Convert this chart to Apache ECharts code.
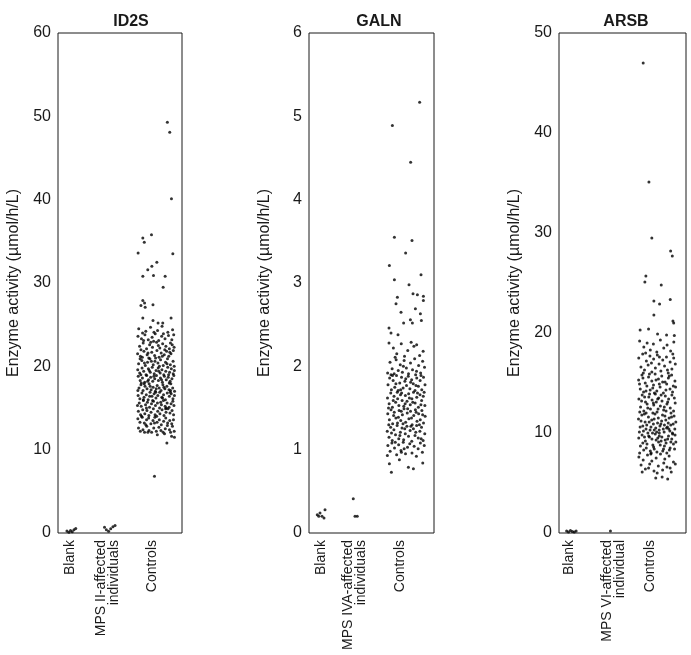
<!DOCTYPE html>
<html><head><meta charset="utf-8">
<script src="https://cdn.jsdelivr.net/npm/echarts@6/dist/echarts.min.js"></script>
<style>html,body{margin:0;padding:0;background:#fff}#c{width:691px;height:655px}</style>
</head><body><div id="c"></div>
<script>
// ---- data (x = jitter position in % of panel width, y = enzyme activity µmol/h/L) ----
const panelTitles = ['ID2S', 'GALN', 'ARSB'];
const yAxisName = 'Enzyme activity (µmol/h/L)';
const categoriesID2S = ['Blank', 'MPS II-affected\nindividuals', 'Controls'];
const categoriesGALN = ['Blank', 'MPS IVA-affected\nindividuals', 'Controls'];
const categoriesARSB = ['Blank', 'MPS VI-affected\nindividual', 'Controls'];
const yMaxs = [60, 6, 50];
const ySteps = [10, 1, 10];

const id2sBlank = [[7.2,0.25],[8.8,0.1],[10.1,0.3],[11.5,0.15],[12.9,0.4],[14.3,0.55]];
const id2sMps = [[37.5,0.7],[39,0.4],[40.8,0.2],[42.5,0.5],[44.3,0.75],[46,0.9]];
const id2sControls = [
[88.2,49.3],[90.1,48.1],[91.5,40.1],[92.6,33.5],[64.6,33.6],[68.4,35.4],[69.6,34.9],[75.4,35.8],[68.4,30.8],[72.4,31.6],[75.7,32.0],[79.7,32.5],[77,30.9],[86.4,30.8],[84.8,29.5],[66.9,27.3],[68.4,27.9],[69.8,27.6],[70.3,27.1],[76.6,27.4],[68.4,25.8],[76.6,25.5],[80.7,25.2],[84.5,25.2],[91.2,25.8],[77.8,6.8],[87.8,10.8],[91.6,11.6],[90.8,12.1],
[65.1,24.5],[70.8,24.2],[74.6,24.7],[80.3,24.3],[83.9,24.8],[88.6,24.1],[92.4,24.4],[68.2,24.0],[77.4,24.1],
[64.5,23.6],[67.3,23.3],[70.1,23.8],[72.8,23.2],[75.9,23.5],[78.4,23.9],[81.2,23.1],[83.6,23.6],[86.3,23.3],[89.1,23.7],[91.8,23.2],[93.3,23.8],[77.1,23.0],[69.0,23.1],[85.0,23.9],
[65.8,22.4],[68.7,22.8],[71.4,22.1],[73.9,22.6],[76.2,22.3],[79.5,22.9],[82.1,22.2],[84.4,22.7],[87.0,22.4],[89.8,22.1],[92.1,22.6],[93.6,22.3],[66.9,22.0],[74.8,22.9],[80.9,22.5],[86.1,22.0],[90.7,22.8],
[64.2,21.5],[66.5,21.2],[69.3,21.8],[71.9,21.4],[73.2,21.0],[75.6,21.7],[77.9,21.3],[79.8,21.9],[81.5,21.1],[83.2,21.6],[85.7,21.4],[87.6,21.8],[89.3,21.2],[91.1,21.5],[93.0,21.9],[68.0,21.1],[72.6,21.6],[78.7,21.0],[84.1,21.2],[90.2,21.7],
[65.0,20.3],[67.6,20.7],[70.4,20.1],[72.2,20.5],[74.1,20.9],[76.8,20.2],[78.2,20.6],[80.6,20.4],[82.7,20.8],[84.9,20.1],[86.7,20.5],[88.3,20.9],[90.6,20.2],[92.8,20.6],[93.7,20.0],[66.2,20.9],[69.7,20.4],[75.3,20.6],[81.8,20.0],[87.9,20.3],
[64.3,19.6],[65.9,19.2],[67.8,19.8],[69.1,19.4],[71.0,19.0],[72.9,19.7],[74.4,19.3],[76.0,19.9],[77.6,19.1],[79.1,19.5],[80.8,19.8],[82.4,19.2],[83.8,19.6],[85.3,19.0],[86.9,19.4],[88.5,19.9],[90.0,19.3],[91.4,19.7],[92.9,19.1],[93.8,19.5],[66.8,19.0],[73.6,19.5],[81.3,19.4],[89.2,19.0],
[64.7,18.8],[66.3,18.3],[68.1,18.6],[69.9,18.1],[71.5,18.9],[73.0,18.4],[74.7,18.7],[76.4,18.2],[78.0,18.5],[79.4,18.9],[81.0,18.3],[82.6,18.6],[84.2,18.1],[85.8,18.8],[87.3,18.4],[88.9,18.7],[90.4,18.2],[91.9,18.5],[93.4,18.9],[67.2,18.0],[72.3,18.2],[77.3,18.8],[83.5,18.4],[89.7,18.0],
[65.3,17.4],[66.9,17.8],[68.6,17.1],[70.2,17.6],[71.8,17.3],[73.5,17.9],[75.1,17.2],[76.7,17.5],[78.5,17.0],[80.0,17.7],[81.6,17.4],[83.1,17.1],[84.6,17.8],[86.2,17.3],[87.8,17.6],[89.5,17.2],[91.0,17.9],[92.5,17.4],[94.0,17.0],[64.4,17.1],[69.5,17.9],[74.3,17.6],[79.2,17.3],[85.4,17.5],[90.8,17.1],
[64.6,16.5],[66.0,16.1],[67.7,16.8],[69.4,16.3],[71.2,16.6],[72.7,16.0],[74.2,16.9],[75.8,16.4],[77.5,16.7],[79.0,16.2],[80.5,16.5],[82.0,16.9],[83.7,16.3],[85.1,16.6],[86.6,16.0],[88.1,16.8],[89.8,16.4],[91.3,16.7],[92.7,16.1],[93.9,16.5],[68.8,16.0],[73.9,16.4],[78.8,16.9],[84.3,16.2],[90.5,16.9],
[65.5,15.6],[67.1,15.2],[68.9,15.9],[70.6,15.4],[72.1,15.7],[73.8,15.1],[75.4,15.5],[77.0,15.8],[78.6,15.3],[80.2,15.6],[81.9,15.0],[83.4,15.4],[85.0,15.9],[86.4,15.2],[88.0,15.6],[89.6,15.1],[91.2,15.5],[92.6,15.8],[64.1,15.3],[71.3,15.0],[76.3,15.9],[82.8,15.7],[87.2,15.0],[93.5,15.3],
[64.8,14.6],[66.6,14.2],[68.3,14.8],[70.0,14.3],[71.7,14.7],[73.3,14.1],[75.0,14.5],[76.9,14.9],[78.3,14.2],[80.4,14.6],[82.2,14.3],[83.9,14.8],[85.5,14.1],[87.1,14.5],[88.7,14.9],[90.3,14.4],[92.0,14.7],[93.2,14.2],[67.4,14.0],[79.6,14.0],[86.8,14.9],
[64.4,13.7],[66.1,13.3],[67.9,13.9],[69.6,13.2],[71.4,13.6],[73.1,13.8],[74.9,13.1],[76.6,13.5],[78.1,13.9],[79.9,13.3],[81.7,13.6],[83.3,13.0],[85.2,13.4],[86.9,13.8],[88.4,13.2],[90.1,13.5],[91.7,13.1],[93.1,13.6],[70.8,13.0],[77.8,13.2],
[64.9,12.6],[66.4,12.2],[68.5,12.4],[69.8,12.1],[71.6,12.8],[73.4,12.3],[75.5,12.1],[77.2,12.6],[79.3,12.2],[81.4,12.7],[83.0,12.3],[84.8,12.1],[86.5,12.5],[88.2,12.9],[89.9,12.4],[92.3,12.8],[93.7,12.2],[72.5,12.1],
[80.1,11.8],[85.9,11.9],[93.9,11.5]
];

const galnBlank = [[6.6,0.22],[8.8,0.24],[10.4,0.2],[12.0,0.18],[12.8,0.28],[7.8,0.2]];
const galnMps = [[35.4,0.41],[36.8,0.2],[38.6,0.2]];
const galnControls = [
[88.5,5.17],[66.7,4.89],[81.3,4.45],[68.3,3.55],[82.4,3.51],[77.3,3.36],[64.3,3.21],[89.6,3.10],[68.3,3.04],[80.0,2.98],[83.2,2.87],[86.7,2.86],[70.7,2.83],[91.5,2.84],[91.5,2.79],[69.6,2.75],[73.6,2.65],[85.1,2.69],[89.1,2.63],[75.7,2.52],[81.1,2.56],[82.7,2.52],[89.9,2.55],[64.0,2.46],[65.6,2.40],[71.2,2.38],
[64.0,2.28],[67.5,2.22],[70.2,2.15],[73.8,2.27],[76.4,2.12],[79.0,2.19],[83.9,2.24],[86.1,2.26],[88.5,2.13],[91.3,2.18],[68.9,2.11],[81.7,2.29],
[62.9,1.92],[64.8,2.05],[66.5,1.97],[68.1,1.91],[69.7,2.08],[71.4,1.95],[73.0,2.02],[74.7,1.93],[76.1,2.07],[77.9,1.98],[79.6,1.91],[81.2,2.04],[82.8,1.96],[84.5,2.09],[86.0,1.94],[87.7,2.01],[89.3,1.92],[90.9,2.06],[92.4,1.99],[65.6,1.90],[75.5,2.00],[85.3,1.90],
[63.2,1.78],[64.5,1.86],[65.9,1.72],[67.3,1.83],[68.6,1.75],[70.0,1.89],[71.3,1.71],[72.6,1.80],[74.0,1.87],[75.3,1.74],[76.7,1.82],[78.0,1.77],[79.4,1.88],[80.7,1.73],[82.1,1.84],[83.4,1.79],[84.8,1.71],[86.2,1.86],[87.5,1.76],[88.9,1.83],[90.2,1.72],[91.6,1.87],[92.8,1.78],[66.8,1.89],[69.5,1.79],[73.3,1.72],[77.4,1.85],[81.3,1.81],[85.6,1.77],[89.6,1.89],
[62.8,1.62],[64.1,1.55],[65.4,1.68],[66.7,1.51],[68.0,1.64],[69.3,1.57],[70.6,1.69],[71.9,1.53],[73.2,1.66],[74.5,1.59],[75.8,1.52],[77.1,1.65],[78.4,1.58],[79.7,1.67],[81.0,1.54],[82.3,1.61],[83.6,1.69],[84.9,1.56],[86.2,1.63],[87.5,1.51],[88.8,1.66],[90.1,1.59],[91.4,1.64],[92.7,1.53],[63.6,1.50],[67.4,1.59],[70.9,1.61],[74.1,1.68],[76.9,1.55],[80.3,1.62],[83.0,1.57],[86.8,1.68],[89.5,1.54],[92.1,1.69],
[63.0,1.43],[64.3,1.36],[65.6,1.48],[66.9,1.31],[68.2,1.45],[69.5,1.38],[70.8,1.32],[72.1,1.47],[73.4,1.35],[74.7,1.42],[76.0,1.49],[77.3,1.33],[78.6,1.44],[79.9,1.37],[81.2,1.46],[82.5,1.30],[83.8,1.41],[85.1,1.48],[86.4,1.34],[87.7,1.43],[89.0,1.36],[90.3,1.47],[91.6,1.32],[92.9,1.40],[63.8,1.30],[67.7,1.41],[71.5,1.39],[75.2,1.31],[78.9,1.49],[82.0,1.38],[85.7,1.45],[88.3,1.30],[90.9,1.42],[73.8,1.46],
[62.6,1.22],[64.0,1.15],[65.3,1.27],[66.6,1.11],[67.9,1.24],[69.2,1.18],[70.5,1.29],[71.8,1.13],[73.1,1.21],[74.4,1.26],[75.7,1.12],[77.0,1.19],[78.3,1.28],[79.6,1.16],[80.9,1.23],[82.2,1.10],[83.5,1.25],[84.8,1.17],[86.1,1.29],[87.4,1.14],[88.7,1.22],[90.0,1.27],[91.3,1.11],[92.6,1.19],[66.0,1.20],[72.7,1.17],[76.6,1.25],[81.5,1.28],[85.4,1.21],[89.7,1.13],
[63.1,1.05],[64.9,0.98],[66.3,1.08],[68.4,1.02],[70.1,0.94],[71.7,1.06],[73.6,0.99],[75.4,1.09],[77.2,0.95],[78.8,1.03],[80.6,1.07],[82.4,0.96],[84.1,1.04],[85.9,0.92],[87.3,1.01],[89.1,1.08],[90.7,0.97],[92.2,1.05],[69.0,1.09],[76.1,1.01],
[65.9,0.73],[64.3,0.83],[72.3,0.88],[79.5,0.79],[83.5,0.77],[91.0,0.84],[62.7,0.93],[73.9,0.97]
];

const arsbBlank = [[6.0,0.2],[7.5,0.1],[9.0,0.25],[10.5,0.15],[12.0,0.1],[13.5,0.2]];
const arsbMps = [[40.5,0.2]];
const arsbControls = [
[66.3,47.0],[70.8,35.1],[73.1,29.5],[87.9,28.2],[89.2,27.7],[68.4,25.7],[67.6,25.1],[80.5,24.8],[74.7,23.2],[79.2,22.9],[87.6,23.35],[74.7,21.8],[89.7,21.2],[90.3,21.0],[63.9,20.3],[70.5,20.4],[77.6,19.9],[84.7,19.8],[90.8,19.75],
[63.5,19.2],[66.8,18.6],[69.4,19.0],[71.9,18.3],[74.3,18.9],[77.0,18.1],[79.8,19.3],[82.5,18.5],[85.1,18.8],[87.9,18.2],[90.4,19.1],[68.2,18.0],
[62.8,17.5],[64.5,16.6],[65.9,17.9],[67.3,16.3],[68.8,17.2],[70.2,16.8],[71.6,17.7],[73.1,16.1],[74.5,17.4],[75.9,16.5],[77.4,17.8],[78.8,16.9],[80.2,16.2],[81.7,17.3],[83.1,16.7],[84.6,17.6],[86.0,16.0],[87.5,17.1],[88.9,16.4],[90.3,17.5],[91.6,16.9],[66.4,16.0],[72.8,17.0],[79.1,17.6],[85.4,16.3],[89.6,17.9],
[62.7,15.3],[64.0,14.4],[65.3,15.8],[66.6,14.1],[67.9,15.0],[69.2,14.7],[70.5,15.6],[71.8,14.3],[73.1,15.2],[74.4,14.8],[75.7,15.9],[77.0,14.2],[78.3,15.4],[79.6,14.6],[80.9,15.7],[82.2,14.0],[83.5,15.1],[84.8,14.9],[86.1,15.5],[87.4,14.4],[88.7,15.8],[90.0,14.7],[91.3,15.2],[63.4,14.9],[66.1,15.5],[68.5,14.2],[71.2,15.9],[73.8,14.5],[76.4,15.3],[79.0,14.9],[81.6,15.1],[84.2,14.3],[86.8,15.7],[89.4,14.1],[91.8,14.6],[75.1,14.0],
[62.9,13.4],[64.2,12.6],[65.5,13.8],[66.8,12.2],[68.1,13.1],[69.4,12.9],[70.7,13.6],[72.0,12.4],[73.3,13.3],[74.6,12.8],[75.9,13.9],[77.2,12.1],[78.5,13.5],[79.8,12.7],[81.1,13.2],[82.4,12.3],[83.7,13.7],[85.0,12.9],[86.3,13.4],[87.6,12.5],[88.9,13.8],[90.2,12.2],[91.5,13.0],[63.6,12.1],[65.0,13.2],[67.4,13.6],[69.9,12.5],[71.3,13.9],[73.9,12.0],[76.6,13.1],[78.0,12.4],[80.4,13.8],[82.9,12.6],[85.6,13.1],[88.2,12.0],[90.8,13.5],[74.3,13.0],[68.6,12.0],[84.3,12.2],[77.7,13.4],
[62.6,11.4],[63.9,10.6],[65.2,11.8],[66.5,10.2],[67.8,11.1],[69.1,10.8],[70.4,11.6],[71.7,10.3],[73.0,11.3],[74.3,10.9],[75.6,11.9],[76.9,10.1],[78.2,11.5],[79.5,10.7],[80.8,11.2],[82.1,10.4],[83.4,11.7],[84.7,10.5],[86.0,11.0],[87.3,10.2],[88.6,11.6],[89.9,10.9],[91.2,10.4],[92.0,11.1],[63.3,10.1],[64.6,11.2],[66.0,10.7],[67.2,11.9],[68.5,10.4],[70.0,10.0],[72.4,10.6],[74.9,11.4],[76.2,10.5],[77.6,11.0],[78.9,10.3],[80.2,10.9],[81.5,11.8],[82.8,10.1],[84.1,11.3],[85.4,10.6],[86.7,11.5],[88.0,10.8],[89.3,10.0],[90.6,11.7],[75.0,10.3],[79.0,10.0],[83.0,10.8],[71.0,11.1],[86.5,10.4],[73.6,10.0],
[62.8,9.5],[64.1,8.7],[65.4,9.8],[66.7,8.3],[68.0,9.2],[69.3,8.9],[70.6,9.7],[71.9,8.2],[73.2,9.4],[74.5,8.6],[75.8,9.9],[77.1,8.1],[78.4,9.1],[79.7,8.8],[81.0,9.6],[82.3,8.4],[83.6,9.3],[84.9,8.0],[86.2,9.7],[87.5,8.5],[88.8,9.4],[90.1,8.9],[91.4,9.8],[92.0,9.1],[63.5,8.0],[66.0,9.0],[68.7,8.5],[71.2,9.6],[73.9,8.8],[76.5,9.3],[79.0,9.7],[81.7,8.2],[84.3,9.0],[86.9,8.3],[89.5,9.9],[91.0,8.4],[67.3,9.6],[72.6,8.0],[77.8,9.5],[83.0,8.7],[88.1,9.1],[75.0,8.4],[80.4,9.2],[85.6,9.4],
[62.9,7.6],[64.6,6.8],[66.3,7.3],[68.0,6.4],[69.7,7.8],[71.4,6.9],[73.1,7.2],[74.8,6.2],[76.5,7.5],[78.2,6.7],[79.9,7.9],[81.6,6.3],[83.3,7.4],[85.0,6.6],[86.7,7.7],[88.4,6.1],[90.1,7.1],[91.6,6.9],[65.5,6.1],[72.3,7.9],[77.3,6.0],[82.5,7.0],[87.5,6.5],[70.5,6.5],
[76.2,5.5],[81.2,5.6],[85.6,5.4]
];

// ---- layout ----
const FONT = '"Liberation Sans", Arial, Helvetica, sans-serif';
const INK = '#1a1a1a';
const grids = [
  {left: 58, top: 33, width: 124, height: 500},
  {left: 309, top: 33, width: 125, height: 500},
  {left: 559, top: 33, width: 127, height: 500}
];
const titleCenters = [126, 374, 621];
const labelPositions = [[9.4, 40, 76], [9.4, 36.8, 72.8], [8.3, 43.1, 71.5]];
const cats = [categoriesID2S, categoriesGALN, categoriesARSB];
const panelData = [
  [id2sBlank, id2sMps, id2sControls],
  [galnBlank, galnMps, galnControls],
  [arsbBlank, arsbMps, arsbControls]
];

const option = {
  animation: false,
  backgroundColor: '#fff',
  title: panelTitles.map((t, i) => ({
    text: t, left: titleCenters[i], top: 9, textAlign: 'center',
    textStyle: {fontFamily: FONT, fontSize: 16, fontWeight: 'bold', color: INK}
  })),
  grid: grids.map(g => Object.assign({show: true, borderColor: '#1a1a1a', borderWidth: 1, backgroundColor: 'transparent'}, g)),
  xAxis: grids.map((g, i) => ({
    type: 'value', gridIndex: i, min: 0, max: 100,
    axisLine: {show: false}, axisTick: {show: false}, splitLine: {show: false},
    axisLabel: {
      customValues: labelPositions[i], rotate: 90, margin: 7,
      fontFamily: FONT, fontSize: 14, lineHeight: 13, color: INK,
      formatter: v => {
        const k = labelPositions[i].findIndex(p => Math.abs(p - v) < 0.01);
        return k >= 0 ? cats[i][k] : '';
      }
    }
  })),
  yAxis: grids.map((g, i) => ({
    type: 'value', gridIndex: i, min: 0, max: yMaxs[i], interval: ySteps[i],
    name: yAxisName, nameLocation: 'middle', nameGap: 36,
    nameTextStyle: {fontFamily: FONT, fontSize: 16, color: INK},
    axisLine: {show: false}, axisTick: {show: false}, splitLine: {show: false},
    axisLabel: {fontFamily: FONT, fontSize: 16, color: INK, margin: 7}
  })),
  series: panelData.map((groups, i) => ({
    type: 'scatter', xAxisIndex: i, yAxisIndex: i,
    symbol: 'circle', symbolSize: 3,
    itemStyle: {color: '#000'},
    data: [].concat(groups[0], groups[1], groups[2])
  }))
};

const chart = echarts.init(document.getElementById('c'), null, {renderer: 'canvas'});
chart.setOption(option);
</script>
</body></html>
